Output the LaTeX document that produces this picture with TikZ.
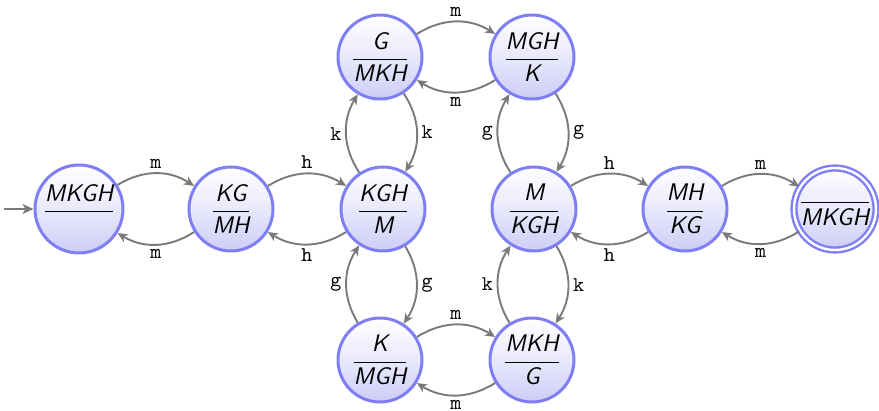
\documentclass[tikz,border=0pt]{standalone}
\usepackage{amsmath}
\usetikzlibrary{arrows.meta,shadings}
\definecolor{stborder}{HTML}{7F7FF5}
\definecolor{stbottom}{HTML}{CDCDF8}
\definecolor{edgegray}{HTML}{7A7A7A}
\newcommand{\stlab}[2]{$\dfrac{\textsf{\itshape #1}}{\textsf{\itshape #2}}$}
\tikzset{
  state/.style={circle, draw=stborder, line width=1.5pt, minimum size=42pt, inner sep=0pt,
    top color=white, bottom color=stbottom, middle color=stbottom!45!white, font=\fontsize{12}{14}\selectfont},
  accepting/.style={double=white, double distance=1.2pt, line width=1.2pt},
  trans/.style={draw=edgegray, line width=0.95pt, -{Stealth[length=5pt,width=4.5pt,inset=1.5pt]}, bend left=32},
  lab/.style={font=\ttfamily\fontsize{10.5}{12}\selectfont, inner sep=2pt}
}
\begin{document}
\begin{tikzpicture}[x=0.5pt,y=-0.5pt]
\useasboundingbox (0,0) rectangle (879,411);
\node[state] (s0) at (79,209) {\stlab{MKGH}{}};
\node[state] (s1) at (231,209) {\stlab{KG}{MH}};
\node[state] (s2) at (383,209) {\stlab{KGH}{M}};
\node[state] (s3) at (534,209) {\stlab{M}{KGH}};
\node[state] (s4) at (685,209) {\stlab{MH}{KG}};
\node[state, minimum size=41pt, accepting] (s5) at (835,209) {\stlab{}{MKGH}};
\node[state] (u1) at (380,57) {\stlab{G}{MKH}};
\node[state] (u2) at (532,57) {\stlab{MGH}{K}};
\node[state] (d1) at (380,360) {\stlab{K}{MGH}};
\node[state] (d2) at (532,360) {\stlab{MKH}{G}};
\coordinate (start) at (4,209);
\draw[draw=edgegray, line width=0.95pt, -{Stealth[length=5.5pt,width=5pt,inset=1.5pt]}] (start) -- (s0);
\path[trans] (s0) edge node[lab, above] {m} (s1)
             (s1) edge node[lab, below] {m} (s0)
             (s1) edge node[lab, above] {h} (s2)
             (s2) edge node[lab, below] {h} (s1)
             (s2) edge node[lab, left] {k} (u1)
             (u1) edge node[lab, right] {k} (s2)
             (u1) edge node[lab, above] {m} (u2)
             (u2) edge node[lab, below] {m} (u1)
             (s3) edge node[lab, left] {g} (u2)
             (u2) edge node[lab, right] {g} (s3)
             (d1) edge node[lab, left] {g} (s2)
             (s2) edge node[lab, right] {g} (d1)
             (d1) edge node[lab, above] {m} (d2)
             (d2) edge node[lab, below] {m} (d1)
             (d2) edge node[lab, left] {k} (s3)
             (s3) edge node[lab, right] {k} (d2)
             (s3) edge node[lab, above] {h} (s4)
             (s4) edge node[lab, below] {h} (s3)
             (s4) edge node[lab, above] {m} (s5)
             (s5) edge node[lab, below] {m} (s4);
\end{tikzpicture}
\end{document}
